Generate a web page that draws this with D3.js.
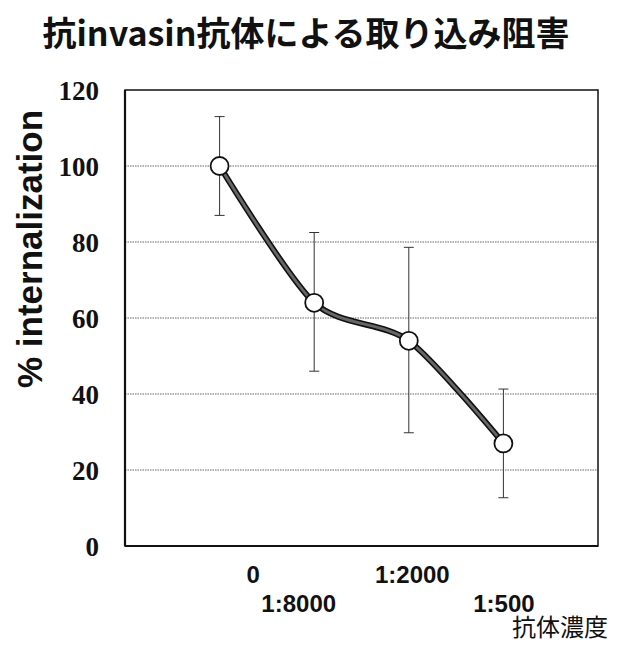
<!DOCTYPE html>
<html>
<head>
<meta charset="utf-8">
<script src="https://cdn.jsdelivr.net/npm/d3@7"></script>
<style>
  html, body { margin: 0; padding: 0; background: #fff; }
  svg { display: block; }
</style>
</head>
<body>
<svg id="chart" width="628" height="645"></svg>
<script>
// Antibody dilutions and measured internalization (% of control)
const categories = ["0", "1:8000", "1:2000", "1:500"];
const values = [100, 64, 54, 27];
const errUpper = [113, 82.5, 78.6, 41.3];
const errLower = [87, 46, 29.8, 12.7];
const yTicks = [0, 20, 40, 60, 80, 100, 120];

const svg = d3.select("#chart");
const margin = { left: 125, top: 90, right: 30, bottom: 99 };
const W = 628, H = 645;
const plotW = W - margin.left - margin.right;
const plotH = H - margin.top - margin.bottom;

const x = d3.scalePoint().domain(categories).range([0, plotW]).padding(1);
const y = d3.scaleLinear().domain([0, 120]).range([plotH, 0]);

// Title
svg.append("text")
  .attr("x", 306).attr("y", 46)
  .attr("text-anchor", "middle")
  .style("font-family", "'Noto Sans CJK JP', sans-serif")
  .style("font-weight", "bold")
  .style("font-size", "34px")
  .attr("fill", "#111")
  .text("抗invasin抗体による取り込み阻害");

const g = svg.append("g").attr("transform", `translate(${margin.left},${margin.top})`);

// Dotted horizontal gridlines
g.append("g").selectAll("line")
  .data(yTicks.filter(t => t > 0 && t < 120))
  .join("line")
  .attr("x1", 0).attr("x2", plotW)
  .attr("y1", d => y(d)).attr("y2", d => y(d))
  .attr("stroke", "#666").attr("stroke-width", 1.2)
  .attr("stroke-dasharray", "1.5,1");

// Plot frame
g.append("rect")
  .attr("x", 0).attr("y", 0).attr("width", plotW).attr("height", plotH)
  .attr("fill", "none").attr("stroke", "#111").attr("stroke-width", 1.5);
g.append("line").attr("x1", 0).attr("x2", 0).attr("y1", 0).attr("y2", plotH)
  .attr("stroke", "#111").attr("stroke-width", 2.2);
g.append("line").attr("x1", 0).attr("x2", plotW).attr("y1", plotH).attr("y2", plotH)
  .attr("stroke", "#111").attr("stroke-width", 2.2);

// Y axis tick labels
const yAxis = d3.axisLeft(y).tickValues(yTicks).tickSize(0).tickPadding(26);
const ya = g.append("g").call(yAxis);
ya.select(".domain").remove();
ya.selectAll("text")
  .style("font-family", "'Liberation Serif', 'Times New Roman', serif")
  .style("font-weight", "bold")
  .style("font-size", "27px")
  .attr("fill", "#111")
  .attr("dy", "0.35em");

// Y axis title
svg.append("text")
  .attr("transform", "translate(42,249) rotate(-90)")
  .attr("text-anchor", "middle")
  .style("font-family", "'Liberation Sans', Arial, sans-serif")
  .style("font-weight", "bold")
  .style("font-size", "35px")
  .attr("fill", "#111")
  .text("% internalization");

// X category labels, staggered on two rows with hand-set horizontal nudges
const labelDx = [33, -16, 3, 0];
const xa = g.append("g").attr("transform", `translate(0,${plotH})`)
  .call(d3.axisBottom(x).tickSize(0).tickPadding(0));
xa.select(".domain").remove();
xa.selectAll("text")
  .attr("x", (d, i) => labelDx[i])
  .attr("y", (d, i) => i % 2 === 0 ? 37 : 66)
  .attr("dy", 0)
  .style("font-family", "'Liberation Sans', Arial, sans-serif")
  .style("font-weight", "bold")
  .style("font-size", "24px")
  .attr("fill", "#111");

// X axis title
svg.append("text")
  .attr("x", 560).attr("y", 636)
  .attr("text-anchor", "middle")
  .style("font-family", "'Noto Sans CJK JP', sans-serif")
  .style("font-size", "24px")
  .attr("fill", "#111")
  .text("抗体濃度");

// Error bars
const eb = g.append("g").selectAll("g").data(categories).join("g");
eb.append("line")
  .attr("x1", d => x(d)).attr("x2", d => x(d))
  .attr("y1", (d, i) => y(errUpper[i])).attr("y2", (d, i) => y(errLower[i]))
  .attr("stroke", "#333").attr("stroke-width", 1);
eb.append("line")
  .attr("x1", d => x(d) - 5).attr("x2", d => x(d) + 5)
  .attr("y1", (d, i) => y(errUpper[i])).attr("y2", (d, i) => y(errUpper[i]))
  .attr("stroke", "#333").attr("stroke-width", 1);
eb.append("line")
  .attr("x1", d => x(d) - 5).attr("x2", d => x(d) + 5)
  .attr("y1", (d, i) => y(errLower[i])).attr("y2", (d, i) => y(errLower[i]))
  .attr("stroke", "#333").attr("stroke-width", 1);

// Smoothed series line: dark outline with grey core
const line = d3.line()
  .x((d, i) => x(categories[i]))
  .y(d => y(d))
  .curve(d3.curveCardinal.tension(0.2));
g.append("path").datum(values).attr("d", line)
  .attr("fill", "none").attr("stroke", "#111").attr("stroke-width", 6)
  .attr("stroke-linejoin", "round");
g.append("path").datum(values).attr("d", line)
  .attr("fill", "none").attr("stroke", "#666").attr("stroke-width", 2.8)
  .attr("stroke-linejoin", "round");

// Markers
g.append("g").selectAll("circle").data(values).join("circle")
  .attr("cx", (d, i) => x(categories[i]))
  .attr("cy", d => y(d))
  .attr("r", 9)
  .attr("fill", "#fff").attr("stroke", "#111").attr("stroke-width", 1.8);
</script>
</body>
</html>
